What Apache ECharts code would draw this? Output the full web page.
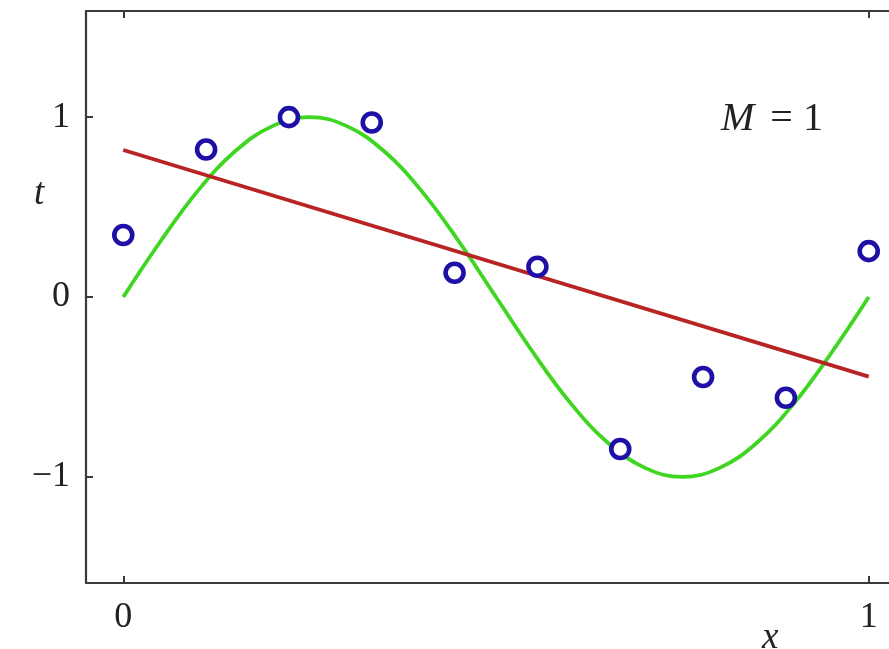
<!DOCTYPE html>
<html>
<head>
<meta charset="utf-8">
<script src="https://cdn.jsdelivr.net/npm/echarts@6/dist/echarts.min.js"></script>
<style>
  html, body { margin: 0; padding: 0; background: #fff; }
  #chart { width: 889px; height: 649px; }
</style>
</head>
<body>
<div id="chart"></div>
<script>
// Noisy observations t_n at evenly spaced inputs x_n
const obsX = [0, 1/9, 2/9, 3/9, 4/9, 5/9, 6/9, 7/9, 8/9, 1];
const obsT = [0.345, 0.82, 1.0, 0.97, 0.135, 0.168, -0.845, -0.445, -0.56, 0.255];

// Underlying curve, sampled along x
const curveX = [0, 0.05, 0.1, 0.15, 0.2, 0.25, 0.3, 0.35, 0.4, 0.45, 0.5,
                0.55, 0.6, 0.65, 0.7, 0.75, 0.8, 0.85, 0.9, 0.95, 1];
const curveT = [0, 0.31, 0.59, 0.81, 0.95, 1.0, 0.95, 0.81, 0.59, 0.31, 0,
                -0.31, -0.59, -0.81, -0.95, -1.0, -0.95, -0.81, -0.59, -0.31, 0];

// First-order polynomial fit (M = 1), endpoints at x = 0 and x = 1
const fitX = [0, 1];
const fitT = [0.817, -0.443];

// Tick positions
const xTicks = [0, 1];
const yTicks = [-1, 0, 1];

const pairs = (xs, ys) => xs.map((x, i) => [x, ys[i]]);
const fmt = v => (v < 0 ? '\u2212' + Math.abs(v) : String(v));

const FONT = 'Liberation Serif';
const INK = '#222';
const FRAME = '#3a3a3a';

const tickStyle = { show: true, inside: true, length: 7, lineStyle: { color: FRAME, width: 2 } };

const chart = echarts.init(document.getElementById('chart'), null, { renderer: 'canvas' });

// The frame runs a little past the right edge of the canvas
chart.setOption({
  backgroundColor: '#fff',
  animation: false,
  grid: { left: 86, top: 11, width: 820, height: 572, containLabel: false, outerBoundsMode: 'none' },
  xAxis: [
    {
      type: 'value', position: 'bottom', min: -0.05, max: 1.05,
      axisLine: { show: true, onZero: false, lineStyle: { color: FRAME, width: 2.2 } },
      axisTick: Object.assign({ customValues: xTicks }, tickStyle),
      axisLabel: { customValues: xTicks, formatter: fmt, margin: 17,
                   fontFamily: FONT, fontSize: 36, color: INK },
      splitLine: { show: false }
    },
    {
      type: 'value', position: 'top', min: -0.05, max: 1.05,
      axisLine: { show: true, onZero: false, lineStyle: { color: FRAME, width: 2.2 } },
      axisTick: Object.assign({ customValues: xTicks }, tickStyle),
      axisLabel: { show: false },
      splitLine: { show: false }
    }
  ],
  yAxis: [
    {
      type: 'value', position: 'left', min: -1.59, max: 1.59,
      axisLine: { show: true, onZero: false, lineStyle: { color: FRAME, width: 2.2 } },
      axisTick: Object.assign({ customValues: yTicks }, tickStyle),
      axisLabel: { customValues: yTicks, formatter: fmt, margin: 16,
                   fontFamily: FONT, fontSize: 36, color: INK },
      splitLine: { show: false }
    },
    {
      type: 'value', position: 'right', min: -1.59, max: 1.59,
      axisLine: { show: true, onZero: false, lineStyle: { color: FRAME, width: 2.2 } },
      axisTick: Object.assign({ customValues: yTicks }, tickStyle),
      axisLabel: { show: false },
      splitLine: { show: false }
    }
  ],
  series: [
    {
      name: 'curve', type: 'line', data: pairs(curveX, curveT),
      smooth: 0.4, showSymbol: false, z: 2,
      lineStyle: { color: '#3fd622', width: 3.8 }
    },
    {
      name: 'fit', type: 'line', data: pairs(fitX, fitT),
      showSymbol: false, z: 3,
      lineStyle: { color: '#b82424', width: 3.8 }
    },
    {
      name: 'observations', type: 'scatter', data: pairs(obsX, obsT),
      symbol: 'circle', symbolSize: 18, z: 4,
      itemStyle: { color: '#fff', borderColor: '#1e0fa6', borderWidth: 4.6, opacity: 1 }
    }
  ],
  graphic: [
    {
      type: 'text', left: 34, top: 176,
      style: { text: 't', font: 'italic 37px "' + FONT + '"', fill: INK }
    },
    {
      type: 'text', left: 762, top: 620,
      style: { text: 'x', font: 'italic 37px "' + FONT + '"', fill: INK }
    },
    {
      type: 'text', left: 721, top: 99,
      style: {
        text: '{m|M}{r|= 1}',
        rich: {
          m: { fontFamily: FONT, fontStyle: 'italic', fontSize: 40, fill: INK, color: INK },
          r: { fontFamily: FONT, fontSize: 40, fill: INK, color: INK, padding: [0, 0, 0, 16] }
        }
      }
    }
  ]
});
</script>
</body>
</html>
